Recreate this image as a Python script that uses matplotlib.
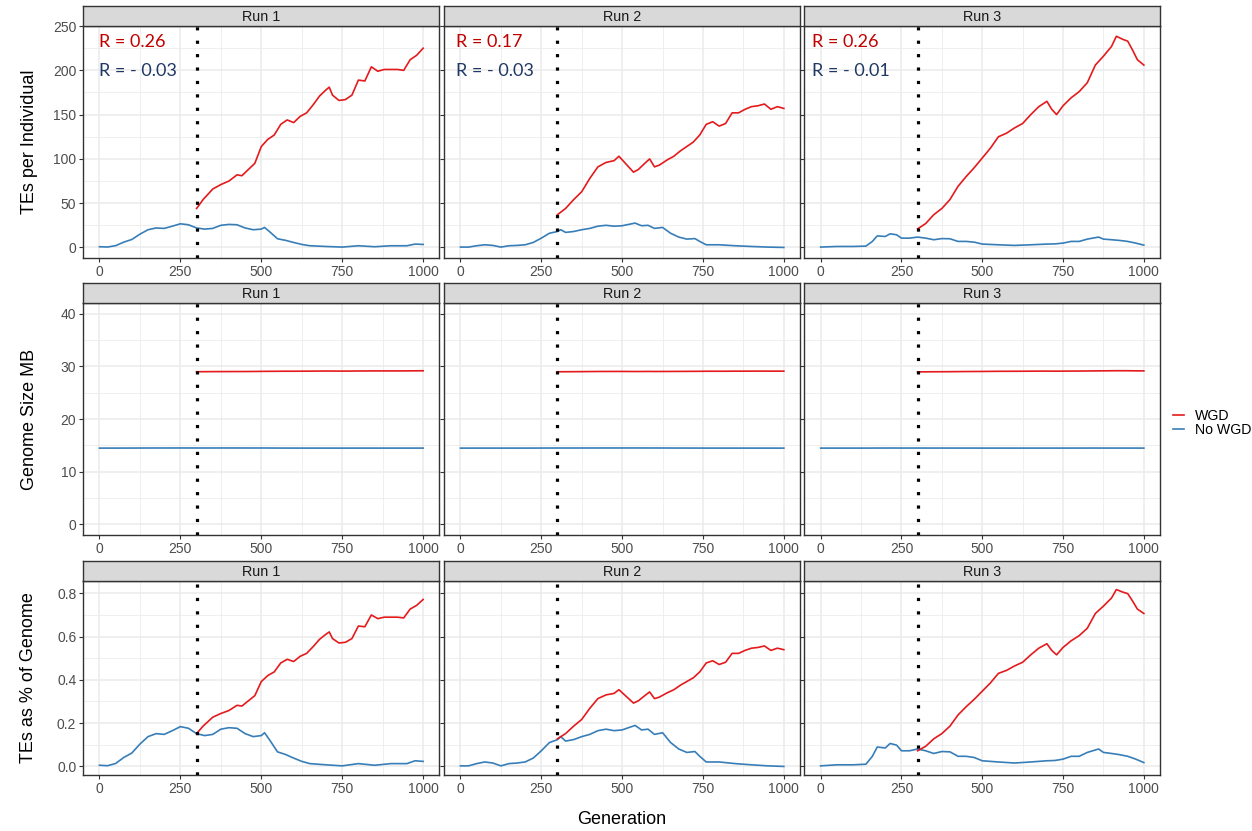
import numpy as np
import matplotlib.pyplot as plt
from matplotlib.lines import Line2D
from matplotlib.ticker import FixedLocator, FormatStrFormatter

# ---------------- data ----------------
runs = ['Run 1', 'Run 2', 'Run 3']

# TEs per individual, WGD populations (duplication at generation 300)
wgd_gen_1 = [300, 320, 350, 375, 400, 425, 440, 460, 480, 500, 520, 540, 560, 580, 600, 620,
             640, 660, 680, 700, 710, 720, 740, 760, 780, 800, 820, 840, 860, 880, 900, 920,
             940, 960, 980, 1000]
wgd_tes_1 = [44, 54, 66, 71, 75, 82, 81, 88, 95, 114, 122, 127, 139, 144, 141, 148,
             152, 161, 171, 178, 181, 172, 166, 167, 172, 189, 188, 204, 199, 201, 201, 201,
             200, 212, 217, 225]

wgd_gen_2 = [300, 325, 350, 375, 400, 425, 450, 475, 490, 500, 520, 535, 550, 570, 585, 600,
             615, 640, 660, 680, 700, 720, 740, 760, 780, 800, 820, 840, 860, 880, 900, 920,
             940, 960, 980, 1000]
wgd_tes_2 = [37, 44, 54, 63, 78, 91, 96, 98, 103, 99, 91, 85, 88, 95, 100, 91,
             93, 99, 103, 109, 114, 119, 127, 139, 142, 137, 140, 152, 152, 156, 159, 160,
             162, 156, 159, 157]

wgd_gen_3 = [300, 325, 350, 375, 400, 425, 450, 475, 500, 525, 550, 575, 600, 625, 650, 675,
             700, 715, 730, 750, 775, 800, 825, 850, 875, 900, 915, 935, 950, 965, 980, 1000]
wgd_tes_3 = [21, 27, 37, 44, 54, 69, 80, 90, 101, 112, 125, 129, 135, 140, 150, 159,
             165, 156, 150, 160, 169, 176, 186, 206, 216, 227, 238.5, 235, 233, 223, 212, 206]

# TEs per individual, populations without WGD
nowgd_gen_1 = [0, 25, 50, 75, 100, 125, 150, 175, 200, 225, 250, 275, 300, 325, 350, 375,
               400, 425, 450, 475, 500, 510, 525, 550, 575, 600, 625, 650, 700, 750, 800, 850,
               900, 950, 975, 1000]
nowgd_tes_1 = [0.8, 0.5, 2, 6, 9, 15, 20, 22, 21.5, 24, 26.7, 25.6, 22, 20.7, 21.5, 25,
               26, 25.6, 22, 20, 20.7, 22.6, 18, 9.8, 8, 5.6, 3.4, 1.9, 1.1, 0.4, 1.9, 0.8,
               1.9, 1.9, 3.8, 3.4]

nowgd_gen_2 = [0, 25, 50, 75, 100, 125, 150, 175, 200, 225, 250, 275, 300, 310, 325, 350,
               375, 400, 425, 450, 475, 500, 525, 540, 560, 580, 600, 625, 650, 675, 700, 725,
               740, 760, 800, 850, 900, 950, 1000]
nowgd_tes_2 = [0.4, 0.4, 1.9, 3, 2.3, 0.4, 1.9, 2.3, 3, 5.6, 10.5, 16, 18, 20, 17, 18,
               20, 21.5, 24, 25, 24, 24.5, 26.4, 27.5, 24.5, 25, 21.5, 22.6, 16, 11.7, 9.4, 10,
               6.8, 3, 3, 1.9, 1.1, 0.4, 0]

nowgd_gen_3 = [0, 50, 100, 140, 160, 175, 200, 215, 235, 250, 275, 300, 325, 350, 375, 400,
               425, 450, 475, 500, 550, 600, 650, 700, 725, 750, 775, 800, 825, 860, 875, 900,
               925, 950, 975, 1000]
nowgd_tes_3 = [0.4, 1.1, 1.1, 1.5, 6.8, 13, 12.4, 15.4, 14.3, 10.5, 10.5, 11.7, 10.5, 8.7, 10, 9.8,
               6.8, 6.8, 6, 3.8, 3, 2.3, 3, 3.8, 4, 4.9, 6.8, 6.8, 9.4, 11.7, 9.4, 8.7,
               7.9, 6.8, 4.9, 2.6]

r_wgd = ['R = 0.26', 'R = 0.17', 'R = 0.26']
r_nowgd = ['R = - 0.03', 'R = - 0.03', 'R = - 0.01']

wgd_event = 300
base_mb_wgd = 28.96     # genome size without TEs, duplicated
base_mb_nowgd = 14.5    # genome size without TEs, ancestral
te_kb = 1.0             # length of one TE copy

wgd_gen = [wgd_gen_1, wgd_gen_2, wgd_gen_3]
wgd_tes = [wgd_tes_1, wgd_tes_2, wgd_tes_3]
nowgd_gen = [nowgd_gen_1, nowgd_gen_2, nowgd_gen_3]
nowgd_tes = [nowgd_tes_1, nowgd_tes_2, nowgd_tes_3]


def genome_mb(tes, base):
    return base + np.asarray(tes) * te_kb / 1000


def te_percent(tes, base):
    return np.asarray(tes) * te_kb / 1000 / genome_mb(tes, base) * 100


# one entry per plot row: (y values for WGD, y values for No WGD)
rows = [
    ([np.asarray(t) for t in wgd_tes], [np.asarray(t) for t in nowgd_tes]),
    ([genome_mb(t, base_mb_wgd) for t in wgd_tes], [genome_mb(t, base_mb_nowgd) for t in nowgd_tes]),
    ([te_percent(t, base_mb_wgd) for t in wgd_tes], [te_percent(t, base_mb_nowgd) for t in nowgd_tes]),
]
row_labels = ['TEs per Individual', 'Genome Size MB', 'TEs as % of Genome']

# ---------------- style ----------------
RED = '#E41A1C'
BLUE = '#377EB8'
GRID = '#EBEBEB'
DARK = '#333333'

plt.rcParams['font.family'] = ['Liberation Sans', 'DejaVu Sans']

W, H = 1252, 831
fig = plt.figure(figsize=(W / 100, H / 100), dpi=100)

col_px = [(83.3, 439.3), (444.3, 800.0), (804.5, 1160.0)]
row_px = [(6.0, 25.7, 258.0), (283.3, 303.3, 535.0), (560.7, 580.7, 775.3)]


def box(x0, x1, y0, y1):
    return [x0 / W, 1 - y1 / H, (x1 - x0) / W, (y1 - y0) / H]


for r, (wgd_vals, nowgd_vals) in enumerate(rows):
    if r == 1:
        ylim = (-2, 42)
        major, minor = [0, 10, 20, 30, 40], [5, 15, 25, 35]
    else:
        lo = min(min(v.min() for v in wgd_vals), min(v.min() for v in nowgd_vals))
        hi = max(max(v.max() for v in wgd_vals), max(v.max() for v in nowgd_vals))
        pad = (hi - lo) * 0.05
        ylim = (lo - pad, hi + pad)
        if r == 0:
            major, minor = np.arange(0, 251, 50), np.arange(25, 250, 50)
        else:
            major, minor = np.arange(0, 0.81, 0.2), np.arange(0.1, 0.8, 0.2)

    s_top, p_top, p_bot = row_px[r]
    for c in range(3):
        x0, x1 = col_px[c]
        ax = fig.add_axes(box(x0, x1, p_top, p_bot))
        ax.set_xlim(-50, 1050)
        ax.set_ylim(*ylim)
        ax.xaxis.set_major_locator(FixedLocator([0, 250, 500, 750, 1000]))
        ax.xaxis.set_minor_locator(FixedLocator([125, 375, 625, 875]))
        ax.yaxis.set_major_locator(FixedLocator(major))
        ax.yaxis.set_minor_locator(FixedLocator(minor))
        ax.grid(which='major', color=GRID, lw=1.1, zorder=0)
        ax.grid(which='minor', color=GRID, lw=0.55, zorder=0)
        ax.set_axisbelow(True)
        ax.tick_params(which='major', length=3, width=0.8, color=DARK,
                       labelsize=10, labelcolor='#4D4D4D', pad=2)
        ax.tick_params(which='minor', length=0)
        if r == 2:
            ax.yaxis.set_major_formatter(FormatStrFormatter('%.1f'))
        if c > 0:
            ax.tick_params(axis='y', labelleft=False)
        for sp in ax.spines.values():
            sp.set_color(DARK)
            sp.set_linewidth(1.0)

        ax.plot(nowgd_gen[c], nowgd_vals[c], color=BLUE, lw=1.2, zorder=3)
        ax.plot(wgd_gen[c], wgd_vals[c], color=RED, lw=1.2, zorder=3)
        ax.axvline(wgd_event, color='black', lw=2.3, ls=(0, (1, 3.2)),
                   dash_capstyle='butt', zorder=4)

        if r == 0:
            tx = [0, -14, -27][c]
            ax.text(tx, 231.5, r_wgd[c], color='#C00000', fontsize=13,
                    family=['Lato', 'DejaVu Sans'], va='center', ha='left')
            ax.text(tx, 199, r_nowgd[c], color='#1F3864', fontsize=13,
                    family=['Lato', 'DejaVu Sans'], va='center', ha='left')

        strip = fig.add_axes(box(x0, x1, s_top, p_top))
        strip.set_facecolor('#D9D9D9')
        strip.set_xticks([])
        strip.set_yticks([])
        for sp in strip.spines.values():
            sp.set_color(DARK)
            sp.set_linewidth(1.0)
        strip.text(0.5, 0.45, runs[c], ha='center', va='center',
                   fontsize=10.4, color='#1A1A1A', transform=strip.transAxes)

    fig.text(29 / W, 1 - (p_top + p_bot) / 2 / H, row_labels[r], rotation=90,
             ha='center', va='center', fontsize=13)

fig.text(621.5 / W, 1 - 820 / H, 'Generation', ha='center', va='center', fontsize=13)

handles = [Line2D([], [], color=RED, lw=1.2), Line2D([], [], color=BLUE, lw=1.2)]
fig.legend(handles, ['WGD', 'No WGD'], loc='center left',
           bbox_to_anchor=(1166 / W, 1 - 423 / H), frameon=False, fontsize=10.2,
           handlelength=0.75, handletextpad=0.8, labelspacing=0.05, borderpad=0)

fig.savefig('out.png', dpi=100)
